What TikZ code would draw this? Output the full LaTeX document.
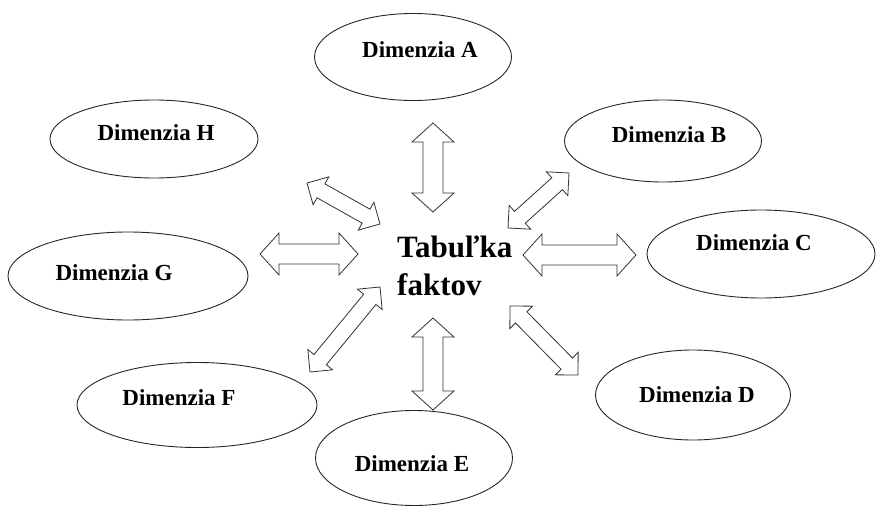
\documentclass[tikz,border=0pt]{standalone}
\usepackage{fontspec}
\setmainfont{Liberation Serif}
\usetikzlibrary{calc,shapes.geometric}

\tikzset{
  dim/.style={ellipse, draw=black!85, line width=0.9pt, inner sep=0pt},
  dimtext/.style={font=\bfseries\fontsize{23}{27}\selectfont, inner sep=0pt},
  hubtext/.style={font=\bfseries\fontsize{31}{38}\selectfont, inner sep=0pt, align=left},
  blockarrow/.style={draw=black!80, line width=0.8pt, fill=white, line join=miter},
}

% hollow double-headed block arrow between two named points
% #3 head length, #4 half shaft width, #5 half head width
\newcommand\dblarrow[5]{%
  \draw[blockarrow] (#1)
    -- ($(#1)!#3!(#2)!#5!90:(#2)$)
    -- ($(#1)!#3!(#2)!#4!90:(#2)$)
    -- ($(#2)!#3!(#1)!#4!-90:(#1)$)
    -- ($(#2)!#3!(#1)!#5!-90:(#1)$)
    -- (#2)
    -- ($(#2)!#3!(#1)!#5!90:(#1)$)
    -- ($(#2)!#3!(#1)!#4!90:(#1)$)
    -- ($(#1)!#3!(#2)!#4!-90:(#2)$)
    -- ($(#1)!#3!(#2)!#5!-90:(#2)$)
    -- cycle;}
\newcommand\straightdbl[2]{\dblarrow{#1}{#2}{19pt}{10pt}{21pt}}
\newcommand\slantdbl[2]{\dblarrow{#1}{#2}{16pt}{8pt}{16pt}}

\begin{document}
\begin{tikzpicture}[x=1pt, y=-1pt]
  \useasboundingbox (0,0) rectangle (876,511);

  % dimensions around the table
  \node[dim, minimum width=197pt, minimum height=87pt] (eA) at (413,57) {};
  \node[dim, minimum width=197pt, minimum height=82pt] (eB) at (663,141) {};
  \node[dim, minimum width=228pt, minimum height=88pt] (eC) at (761,254) {};
  \node[dim, minimum width=195pt, minimum height=90pt] (eD) at (693,395) {};
  \node[dim, minimum width=197pt, minimum height=95pt] (eE) at (414,458) {};
  \node[dim, minimum width=240pt, minimum height=85pt] (eF) at (197,405) {};
  \node[dim, minimum width=240pt, minimum height=88pt] (eG) at (128,276) {};
  \node[dim, minimum width=208pt, minimum height=78pt] (eH) at (154,139) {};

  \node[dimtext] (tA) at (420,50)  {Dimenzia A};
  \node[dimtext] (tB) at (669,135) {Dimenzia B};
  \node[dimtext] (tC) at (754,243) {Dimenzia C};
  \node[dimtext] (tD) at (697,395) {Dimenzia D};
  \node[dimtext] (tE) at (412,464) {Dimenzia E};
  \node[dimtext] (tF) at (179,398) {Dimenzia F};
  \node[dimtext] (tG) at (114,273) {Dimenzia G};
  \node[dimtext] (tH) at (156,133) {Dimenzia H};

  % central topic
  \node[hubtext, anchor=base west] (hub) at (397,295) {Tabuľka\\faktov};

  % arrow end points
  \coordinate (a1) at (433,123); \coordinate (a2) at (433,212);
  \coordinate (e1) at (433,318); \coordinate (e2) at (433,410);
  \coordinate (g1) at (260,254); \coordinate (g2) at (358,254);
  \coordinate (c1) at (523,255); \coordinate (c2) at (636,255);
  \coordinate (h1) at (307,183); \coordinate (h2) at (380,224);
  \coordinate (b1) at (569,173); \coordinate (b2) at (508,228);
  \coordinate (f1) at (380,287); \coordinate (f2) at (310,372);
  \coordinate (d1) at (510,306); \coordinate (d2) at (578,375);

  \straightdbl{a1}{a2}
  \straightdbl{e1}{e2}
  \straightdbl{g1}{g2}
  \straightdbl{c1}{c2}
  \slantdbl{h1}{h2}
  \slantdbl{b1}{b2}
  \slantdbl{f1}{f2}
  \slantdbl{d1}{d2}
\end{tikzpicture}
\end{document}
